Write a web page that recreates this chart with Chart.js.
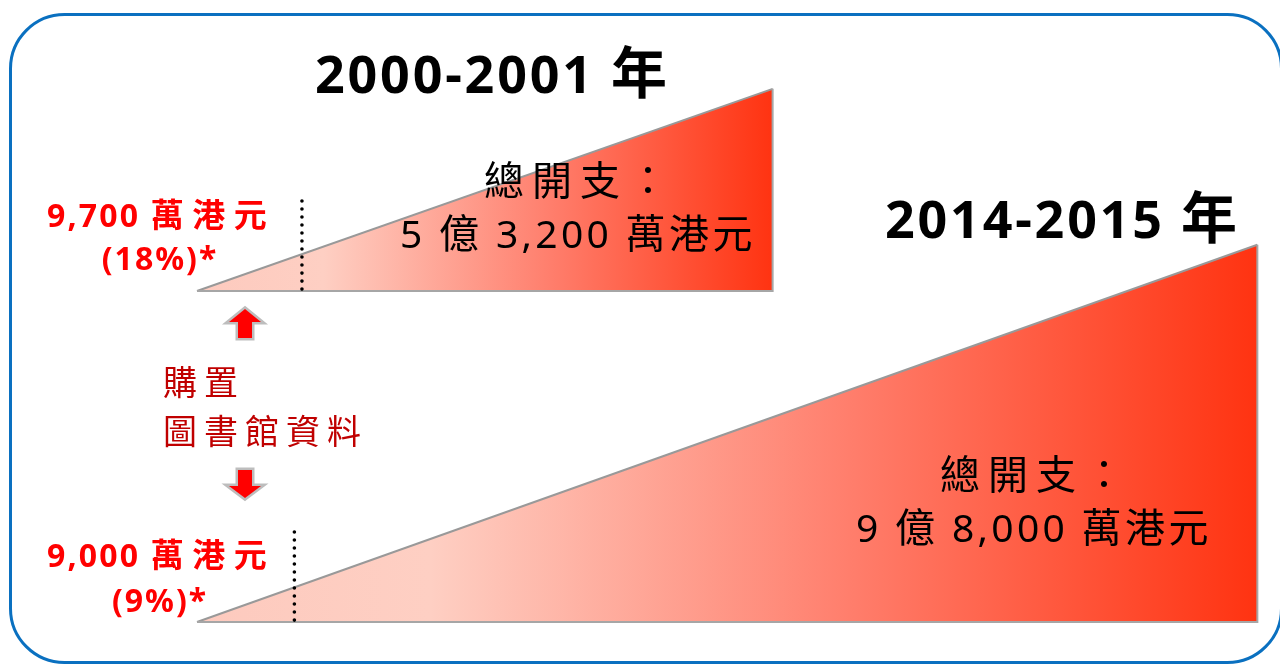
<!DOCTYPE html>
<html><head><meta charset="utf-8">
<script src="https://cdn.jsdelivr.net/npm/chart.js@4.4.1/dist/chart.umd.min.js"></script>
<style>html,body{margin:0;padding:0;background:#fff;overflow:hidden}canvas{display:block}</style>
</head><body>
<canvas id="c" width="1280" height="664"></canvas>
<script>
// ---- data (億港元) ----
const periods = ['2000-2001 年', '2014-2015 年'];
const totalSpend = [5.32, 9.80];
const purchaseSpend = [0.97, 0.90];
const totalLabels = ['5 億 3,200 萬港元', '9 億 8,000 萬港元'];
const purchaseLabels = ['9,700 萬港元', '9,000 萬港元'];
const purchaseShares = ['(18%)*', '(9%)*'];
const totalCaption = '總開支：';
const purchaseCaption = ['購置', '圖書館資料'];

// ---- layout ----
const PX_X = 108.2;           // px per 億 horizontally
const ORIGIN_X = 197;
const axesIds = ['yTop', 'yBot'];
const baseY = [291, 622];
const pxY = [38.0, 38.5];
const dotLen = [2.5, 2.52];
const H = 664, W = 1280;

function yScaleFor(i) {
  return { type: 'linear', display: false, min: -(H - baseY[i]) / pxY[i], max: baseY[i] / pxY[i] };
}

function gradFor(i) {
  return (ctx) => {
    const chart = ctx.chart;
    if (!chart.chartArea) return '#ff8070';
    const xs = chart.scales.x;
    const x0 = xs.getPixelForValue(0), x1 = xs.getPixelForValue(totalSpend[i]);
    const g = chart.ctx.createLinearGradient(x0, 0, x1, 0);
    g.addColorStop(0, '#fdcabe');
    g.addColorStop(0.22, '#fecfc3');
    g.addColorStop(0.62, '#ff7d6b');
    g.addColorStop(1, '#ff3311');
    return g;
  };
}

const datasets = [];
for (let i = 0; i < totalSpend.length; i++) {
  const T = totalSpend[i], P = purchaseSpend[i];
  datasets.push({
    label: periods[i] + ' dots', data: [{x: P, y: 0.05}, {x: P, y: dotLen[i]}], yAxisID: axesIds[i],
    borderColor: '#000', borderWidth: 3.6, borderDash: [0.01, 8], borderCapStyle: 'round',
    pointRadius: 0, fill: false, order: 1
  });
  datasets.push({
    label: periods[i] + ' outline', data: [{x: 0, y: 0}, {x: T, y: 0}, {x: T, y: T}], yAxisID: axesIds[i],
    borderColor: '#a6a6a6', borderWidth: 2, pointRadius: 0, fill: false, order: 2
  });
  datasets.push({
    label: periods[i], data: [{x: 0, y: 0}, {x: T, y: T}], yAxisID: axesIds[i],
    borderColor: '#999999', borderWidth: 2, pointRadius: 0, fill: 'origin',
    backgroundColor: gradFor(i), order: 3
  });
}

const LATIN = '"Noto Sans", sans-serif';
const CJK = '"Noto Sans CJK TC", sans-serif';
function isCJK(ch) { return ch.codePointAt(0) >= 0x2E80; }

// draws text in runs: Latin runs and CJK runs with their own font & spacing
function mixed(ctx, s, x, y, o) {
  const runs = [];
  for (const ch of s) {
    const c = isCJK(ch);
    if (runs.length && runs[runs.length - 1].c === c) runs[runs.length - 1].t += ch;
    else runs.push({ c, t: ch });
  }
  ctx.textAlign = 'left';
  ctx.textBaseline = 'alphabetic';
  ctx.fillStyle = o.color;
  let total = 0;
  for (const r of runs) {
    ctx.font = r.c ? o.cjk : o.latin;
    ctx.letterSpacing = (r.c ? o.lsC : o.lsL) + 'px';
    r.w = ctx.measureText(r.t).width;
    total += r.w;
  }
  let cx = o.align === 'center' ? x - total / 2 : (o.align === 'right' ? x - total : x);
  for (const r of runs) {
    ctx.font = r.c ? o.cjk : o.latin;
    ctx.letterSpacing = (r.c ? o.lsC : o.lsL) + 'px';
    ctx.fillText(r.t, cx, y);
    cx += r.w;
  }
  ctx.letterSpacing = '0px';
}

function arrow(ctx, cx, tipY, wingY, endY, halfHead, halfShaft) {
  ctx.beginPath();
  ctx.moveTo(cx, tipY);
  ctx.lineTo(cx + halfHead, wingY);
  ctx.lineTo(cx + halfShaft, wingY);
  ctx.lineTo(cx + halfShaft, endY);
  ctx.lineTo(cx - halfShaft, endY);
  ctx.lineTo(cx - halfShaft, wingY);
  ctx.lineTo(cx - halfHead, wingY);
  ctx.closePath();
  ctx.lineJoin = 'miter';
  ctx.strokeStyle = '#bdbdbd';
  ctx.lineWidth = 5;
  ctx.stroke();
  ctx.fillStyle = '#ff0000';
  ctx.fill();
}

const decor = {
  id: 'decor',
  afterDatasetsDraw(chart) {
    const ctx = chart.ctx;
    ctx.save();
    // frame
    ctx.strokeStyle = '#0a70c0';
    ctx.lineWidth = 3;
    ctx.beginPath();
    ctx.roundRect(10.5, 14.5, 1271, 648, 54);
    ctx.stroke();

    const titleStyle = { latin: 'bold 52px ' + LATIN, cjk: 'bold 56px ' + CJK, color: '#000', lsL: 2.8, lsC: 0 };
    mixed(ctx, periods[0], 315, 93, titleStyle);
    mixed(ctx, periods[1], 885, 238, titleStyle);

    const cx = [577, 1033];
    const b1 = [195, 489], b2 = [248, 542];
    for (let i = 0; i < 2; i++) {
      mixed(ctx, totalCaption, cx[i] + 3, b1[i], { latin: '39px ' + LATIN, cjk: '40px ' + CJK, color: '#000', lsL: 3, lsC: 8, align: 'center' });
      mixed(ctx, totalLabels[i], cx[i] + 1, b2[i], { latin: '39px ' + LATIN, cjk: '40px ' + CJK, color: '#000', lsL: 3.3, lsC: 3.5, align: 'center' });
    }

    const redStyle = { latin: 'bold 32px ' + LATIN, cjk: 'bold 33px ' + CJK, color: '#ff0000', lsL: 2.2, lsC: 8.5 };
    const rb1 = [227, 567], rb2 = [270, 612];
    for (let i = 0; i < 2; i++) {
      mixed(ctx, purchaseLabels[i], 47, rb1[i], redStyle);
      mixed(ctx, purchaseShares[i], 160, rb2[i], Object.assign({}, redStyle, { align: 'center', lsL: 2 }));
    }

    const capStyle = { latin: '34px ' + LATIN, cjk: '34px ' + CJK, color: '#c00000', lsL: 7, lsC: 7 };
    mixed(ctx, purchaseCaption[0], 163, 395, capStyle);
    mixed(ctx, purchaseCaption[1], 163, 444, capStyle);

    arrow(ctx, 245, 309, 322, 338, 16, 7);
    arrow(ctx, 245, 498, 486, 470, 16, 7);
    ctx.restore();
  }
};

new Chart(document.getElementById('c'), {
  type: 'line',
  data: { datasets },
  options: {
    responsive: false,
    animation: false,
    layout: { padding: 0 },
    plugins: { legend: { display: false }, tooltip: { enabled: false }, title: { display: false } },
    scales: {
      x: { type: 'linear', display: false, min: -ORIGIN_X / PX_X, max: (W - ORIGIN_X) / PX_X },
      yTop: yScaleFor(0),
      yBot: yScaleFor(1)
    }
  },
  plugins: [decor]
});
</script>
</body></html>
